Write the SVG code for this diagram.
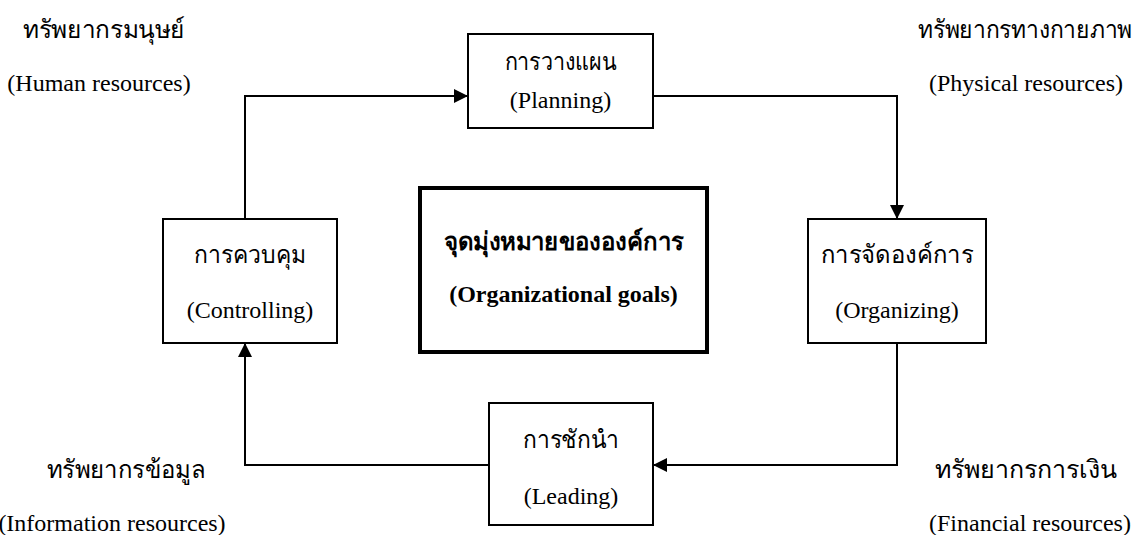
<svg xmlns="http://www.w3.org/2000/svg" width="1143" height="535" viewBox="0 0 1143 535">
<defs>
<marker id="ah" markerUnits="userSpaceOnUse" markerWidth="16" markerHeight="14" refX="14" refY="7" orient="auto">
<path d="M0,0 L14,7 L0,14 z" fill="#000"/>
</marker>
<style>
.box{fill:#fff;stroke:#000;stroke-width:2}
.goal{fill:#fff;stroke:#000;stroke-width:4}
.con{fill:none;stroke:#000;stroke-width:2;marker-end:url(#ah)}
.th{font-family:"Liberation Serif","Noto Sans",serif;font-size:25px;fill:#000}
.en{font-family:"Liberation Serif",serif;font-size:24px;fill:#000}
.b{font-weight:bold}
.m{text-anchor:middle}
</style>
</defs>
<rect width="1143" height="535" fill="#fff"/>
<g id="connectors">
<path class="con" d="M245,219 V96 H468"/>
<path class="con" d="M653,96 H897 V219"/>
<path class="con" d="M897,343 V465 H653"/>
<path class="con" d="M489,465 H245 V343"/>
</g>
<g id="planning">
<rect class="box" x="468" y="34" width="185" height="94"/>
<text class="th m" x="560.5" y="70" textLength="112" lengthAdjust="spacingAndGlyphs">การวางแผน</text>
<text class="en m" x="560.5" y="108">(Planning)</text>
</g>
<g id="controlling">
<rect class="box" x="163" y="219" width="174" height="124"/>
<text class="th m" x="250" y="263" textLength="112" lengthAdjust="spacingAndGlyphs">การควบคุม</text>
<text class="en m" x="250" y="318">(Controlling)</text>
</g>
<g id="organizing">
<rect class="box" x="808" y="219" width="178" height="124"/>
<text class="th m" x="897" y="263" textLength="152" lengthAdjust="spacingAndGlyphs">การจัดองค์การ</text>
<text class="en m" x="897" y="318">(Organizing)</text>
</g>
<g id="leading">
<rect class="box" x="489" y="403" width="164" height="122"/>
<text class="th m" x="571" y="448" textLength="96" lengthAdjust="spacingAndGlyphs">การชักนำ</text>
<text class="en m" x="571" y="504">(Leading)</text>
</g>
<g id="goals">
<rect class="goal" x="420" y="188" width="287" height="164"/>
<text class="th b m" x="563.5" y="250" textLength="240" lengthAdjust="spacingAndGlyphs">จุดมุ่งหมายขององค์การ</text>
<text class="en b m" x="563.5" y="302">(Organizational goals)</text>
</g>
<g id="human">
<text class="th m" x="104" y="38" textLength="162" lengthAdjust="spacingAndGlyphs">ทรัพยากรมนุษย์</text>
<text class="en m" x="99" y="91">(Human resources)</text>
</g>
<g id="physical">
<text class="th m" x="1025" y="38" textLength="214" lengthAdjust="spacingAndGlyphs">ทรัพยากรทางกายภาพ</text>
<text class="en m" x="1026" y="91">(Physical resources)</text>
</g>
<g id="information">
<text class="th m" x="126" y="478" textLength="158" lengthAdjust="spacingAndGlyphs">ทรัพยากรข้อมูล</text>
<text class="en m" x="112" y="531">(Information resources)</text>
</g>
<g id="financial">
<text class="th m" x="1026" y="478" textLength="182" lengthAdjust="spacingAndGlyphs">ทรัพยากรการเงิน</text>
<text class="en m" x="1030" y="531">(Financial resources)</text>
</g>
</svg>
